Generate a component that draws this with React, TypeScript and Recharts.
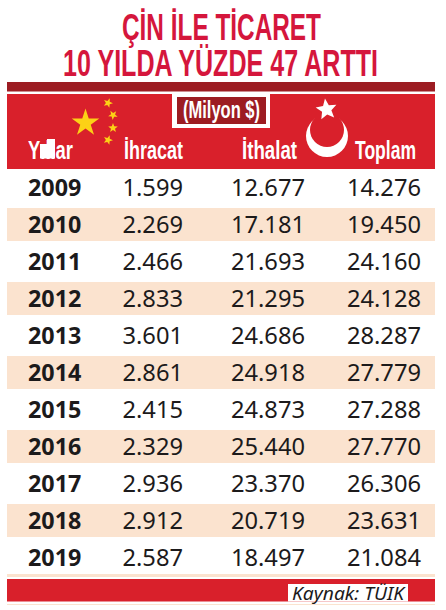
import { Bar, BarChart, Cell, LabelList, XAxis, YAxis } from "recharts";

const years = ["2009", "2010", "2011", "2012", "2013", "2014", "2015", "2016", "2017", "2018", "2019"];
const ihracat = [1599, 2269, 2466, 2833, 3601, 2861, 2415, 2329, 2936, 2912, 2587];
const ithalat = [12677, 17181, 21693, 21295, 24686, 24918, 24873, 25440, 23370, 20719, 18497];
const toplam = [14276, 19450, 24160, 24128, 28287, 27779, 27288, 27770, 26306, 23631, 21084];

const rows = years.map((year, i) => ({
  year,
  ihracat: ihracat[i],
  ithalat: ithalat[i],
  toplam: toplam[i],
  band: 1,
}));

const RED = "#d9202b";
const DARK = "#9c1c22";
const STRIPE = "#fbe3cf";
const TITLE = "#d5163c";
const INK = "#1c1a1b";
const BODY_FONT = "'Noto Sans', 'Open Sans', sans-serif";
const NARROW = "'Liberation Sans Narrow', 'Liberation Sans', sans-serif";

const fmt = (n: number) => String(n).replace(/\B(?=(\d{3})+$)/g, ".");

// right edge of every number column
const cell = (right: number) => (props: any) => (
  <text
    x={right}
    y={props.y + props.height / 2}
    dy="0.36em"
    textAnchor="end"
    fontFamily={BODY_FONT}
    fontSize={23.7}
    fill={INK}
  >
    {fmt(props.value)}
  </text>
);

const yearCell = (props: any) => (
  <text
    x={28}
    y={props.y + props.height / 2}
    dy="0.36em"
    fontFamily={BODY_FONT}
    fontWeight={700}
    fontSize={23.3}
    fill={INK}
  >
    {props.value}
  </text>
);

const starPoints = (cx: number, cy: number, r: number, rot = 0, waist = 0.38) => {
  const pts: string[] = [];
  for (let i = 0; i < 10; i++) {
    const rad = i % 2 === 0 ? r : r * waist;
    const a = ((-90 + rot + i * 36) * Math.PI) / 180;
    pts.push(`${cx + rad * Math.cos(a)},${cy + rad * Math.sin(a)}`);
  }
  return pts.join(" ");
};

const Fitted = ({ x, y, w, size, fill, children }: any) => (
  <text
    x={x}
    y={y}
    textLength={w}
    lengthAdjust="spacingAndGlyphs"
    fontFamily={NARROW}
    fontWeight={700}
    fontSize={size}
    fill={fill}
  >
    {children}
  </text>
);

const Header = () => (
  <g>
    <Fitted x={122} y={40} w={199} size={36} fill={TITLE}>ÇİN İLE TİCARET</Fitted>
    <Fitted x={63} y={76} w={315} size={36} fill={TITLE}>10 YILDA YÜZDE 47 ARTTI</Fitted>

    <rect x={7} y={82} width={428} height={9.5} fill={DARK} />
    <rect x={7} y={94} width={428} height={75} fill={RED} />

    <rect x={172} y={94} width={98} height={34} fill="#fff" />
    <rect x={177} y={97} width={89} height={27} fill={DARK} />
    <Fitted x={183} y={118} w={77} size={23} fill="#fff">(Milyon $)</Fitted>

    <polygon points={starPoints(85.5, 123, 14.5)} fill="#fcd116" />
    <polygon points={starPoints(108, 103, 5, 20, 0.42)} fill="#fcd116" />
    <polygon points={starPoints(113, 115, 5, 40, 0.42)} fill="#fcd116" />
    <polygon points={starPoints(113, 128, 5, 0, 0.42)} fill="#fcd116" />
    <polygon points={starPoints(108, 140, 5, 20, 0.42)} fill="#fcd116" />

    <circle cx={327} cy={136} r={21} fill="#fff" />
    <circle cx={327} cy={130} r={17} fill={RED} />
    <polygon points={starPoints(326.5, 109.5, 11, -8, 0.45)} fill="#fff" />

    <rect x={40} y={144} width={10} height={14.5} fill="#fff" />
    <rect x={47} y={139} width={8} height={19.5} fill="#fff" />
    <Fitted x={28} y={158.5} w={45} size={25} fill="#fff">Yıllar</Fitted>
    <Fitted x={124} y={158.5} w={59} size={25} fill="#fff">İhracat</Fitted>
    <Fitted x={242} y={158.5} w={55} size={25} fill="#fff">İthalat</Fitted>
    <Fitted x={355} y={158.5} w={61} size={25} fill="#fff">Toplam</Fitted>

    <rect x={7} y={572} width={428} height={5} fill={STRIPE} />
    <rect x={7} y={579} width={428} height={22.5} fill={RED} />
    <rect x={288} y={584} width={120} height={17.5} fill="#fff" />
    <text x={292} y={600} textLength={112} lengthAdjust="spacingAndGlyphs" fontFamily={BODY_FONT} fontStyle="italic" fontSize={17.5} fill={INK}>
      Kaynak: TÜIK
    </text>
    <rect x={7} y={604} width={428} height={1} fill={STRIPE} />
  </g>
);

export default function App() {
  return (
    <div style={{ position: "fixed", left: 0, top: 0, width: 446, height: 610, background: "#fff" }}>
      <BarChart
        width={446}
        height={610}
        data={rows}
        layout="vertical"
        margin={{ top: 169, right: 11, bottom: 34, left: 7 }}
      >
        <XAxis type="number" hide domain={[0, 1]} />
        <YAxis type="category" dataKey="year" hide interval={0} />
        <Bar dataKey="band" barSize={33} isAnimationActive={false}>
          {rows.map((r, i) => (
            <Cell key={r.year} fill={i % 2 === 1 ? STRIPE : "#fff"} />
          ))}
          <LabelList dataKey="year" content={yearCell} />
          <LabelList dataKey="ihracat" content={cell(183)} />
          <LabelList dataKey="ithalat" content={cell(305)} />
          <LabelList dataKey="toplam" content={cell(421)} />
        </Bar>
        <Header />
      </BarChart>
    </div>
  );
}
